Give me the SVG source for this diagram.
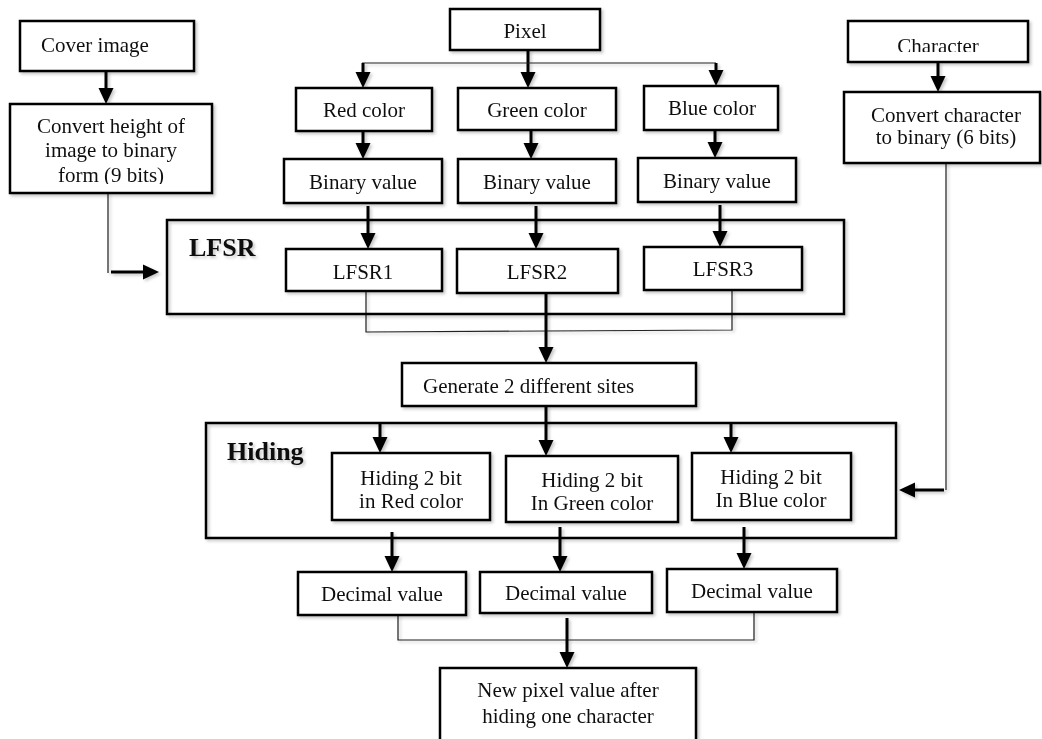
<svg xmlns="http://www.w3.org/2000/svg" width="1042" height="739" viewBox="0 0 1042 739">
<style>
.box{fill:#fff;stroke:#000;stroke-width:2.5}
.t{font-family:"Liberation Serif","Times New Roman",serif;font-size:21px;fill:#111;text-anchor:middle}
.tl{font-family:"Liberation Serif","Times New Roman",serif;font-size:21px;fill:#111}
.b{font-family:"Liberation Serif","Times New Roman",serif;font-size:26px;font-weight:bold;fill:#111}
.arr{fill:none;stroke:#000;stroke-width:3;marker-end:url(#ah)}
.thin{fill:none;stroke:#222;stroke-width:1.2}
</style>
<defs>
<marker id="ah" markerUnits="userSpaceOnUse" markerWidth="16" markerHeight="16" viewBox="0 0 16 16" refX="8" refY="8" orient="auto">
<path d="M0,0.5 L16,8 L0,15.5 z" fill="#000"/>
</marker>
<filter id="sh" x="-10%" y="-10%" width="130%" height="140%">
<feDropShadow dx="2" dy="2" stdDeviation="1.5" flood-color="#000" flood-opacity="0.22"/>
</filter>
<clipPath id="cpConv"><rect x="10" y="104" width="202" height="80"/></clipPath>
<clipPath id="cpChar"><rect x="848" y="21" width="180" height="31"/></clipPath>
</defs>
<rect width="1042" height="739" fill="#fff"/>

<g id="connectors" filter="url(#sh)">
<line class="arr" x1="106" y1="71" x2="106" y2="96"/>
<polyline class="thin" points="108,193 108,273"/>
<line class="arr" x1="111" y1="272" x2="151" y2="272"/>
<line class="arr" x1="528" y1="50" x2="528" y2="80"/>
<polyline class="thin" points="362,63 716,63"/>
<line class="arr" x1="363" y1="63" x2="363" y2="80"/>
<line class="arr" x1="716" y1="63" x2="716" y2="78"/>
<line class="arr" x1="363" y1="131" x2="363" y2="151"/>
<line class="arr" x1="531" y1="130" x2="531" y2="151"/>
<line class="arr" x1="715" y1="130" x2="715" y2="150"/>
<line class="arr" x1="368" y1="206" x2="368" y2="241"/>
<line class="arr" x1="536" y1="206" x2="536" y2="241"/>
<line class="arr" x1="720" y1="205" x2="720" y2="239"/>
<polyline class="thin" points="366,291 366,332 732,330 732,290"/>
<line class="arr" x1="546" y1="293" x2="546" y2="355"/>
<line class="arr" x1="546" y1="406" x2="546" y2="448"/>
<line class="arr" x1="380" y1="423" x2="380" y2="445"/>
<line class="arr" x1="731" y1="423" x2="731" y2="445"/>
<line class="arr" x1="938" y1="62" x2="938" y2="84"/>
<polyline class="thin" points="946,163 946,490"/>
<line class="arr" x1="944" y1="490" x2="907" y2="490"/>
<line class="arr" x1="392" y1="532" x2="392" y2="564"/>
<line class="arr" x1="560" y1="527" x2="560" y2="564"/>
<line class="arr" x1="744" y1="527" x2="744" y2="561"/>
<polyline class="thin" points="398,615 398,640 754,640 754,613"/>
<line class="arr" x1="567" y1="618" x2="567" y2="660"/>
</g>

<g id="lfsr-group" filter="url(#sh)">
<rect class="box" x="167" y="220" width="677" height="94" fill="none" style="fill:none"/>
<text class="b" x="189" y="256">LFSR</text>
</g>
<g id="hiding-group" filter="url(#sh)">
<rect class="box" x="206" y="423" width="690" height="115" style="fill:none"/>
<text class="b" x="227" y="460">Hiding</text>
</g>

<g id="cover" filter="url(#sh)">
<rect class="box" x="20" y="21" width="174" height="50"/>
<text class="tl" x="41" y="52">Cover image</text>
</g>
<g id="convert-height" filter="url(#sh)">
<rect class="box" x="10" y="104" width="202" height="89"/>
<g clip-path="url(#cpConv)">
<text class="t" x="111" y="133">Convert height of</text>
<text class="t" x="111" y="157">image to binary</text>
<text class="t" x="111" y="182">form (9 bits)</text>
</g>
</g>
<g id="pixel" filter="url(#sh)">
<rect class="box" x="450" y="9" width="150" height="41"/>
<text class="t" x="525" y="38">Pixel</text>
</g>
<g id="red" filter="url(#sh)">
<rect class="box" x="296" y="88" width="136" height="43"/>
<text class="t" x="364" y="117">Red color</text>
</g>
<g id="green" filter="url(#sh)">
<rect class="box" x="458" y="88" width="158" height="42"/>
<text class="t" x="537" y="117">Green color</text>
</g>
<g id="blue" filter="url(#sh)">
<rect class="box" x="644" y="86" width="134" height="44"/>
<text class="t" x="712" y="115">Blue color</text>
</g>
<g id="binary-red" filter="url(#sh)">
<rect class="box" x="284" y="159" width="158" height="44"/>
<text class="t" x="363" y="189">Binary value</text>
</g>
<g id="binary-green" filter="url(#sh)">
<rect class="box" x="458" y="159" width="158" height="44"/>
<text class="t" x="537" y="189">Binary value</text>
</g>
<g id="binary-blue" filter="url(#sh)">
<rect class="box" x="638" y="158" width="158" height="44"/>
<text class="t" x="717" y="188">Binary value</text>
</g>
<g id="character" filter="url(#sh)">
<rect class="box" x="848" y="21" width="180" height="41"/>
<g clip-path="url(#cpChar)">
<text class="t" x="938" y="53">Character</text>
</g>
</g>
<g id="convert-character" filter="url(#sh)">
<rect class="box" x="844" y="92" width="196" height="71"/>
<text class="t" x="946" y="122">Convert character</text>
<text class="t" x="946" y="144">to binary (6 bits)</text>
</g>
<g id="lfsr1" filter="url(#sh)">
<rect class="box" x="286" y="249" width="156" height="42"/>
<text class="t" x="363" y="279">LFSR1</text>
</g>
<g id="lfsr2" filter="url(#sh)">
<rect class="box" x="457" y="249" width="161" height="44"/>
<text class="t" x="537" y="279">LFSR2</text>
</g>
<g id="lfsr3" filter="url(#sh)">
<rect class="box" x="644" y="247" width="158" height="43"/>
<text class="t" x="723" y="276">LFSR3</text>
</g>
<g id="generate" filter="url(#sh)">
<rect class="box" x="402" y="363" width="294" height="43"/>
<text class="tl" x="423" y="393">Generate 2 different sites</text>
</g>
<g id="hiding-red" filter="url(#sh)">
<rect class="box" x="332" y="453" width="158" height="67"/>
<text class="t" x="411" y="485">Hiding 2 bit</text>
<text class="t" x="411" y="508">in Red color</text>
</g>
<g id="hiding-green" filter="url(#sh)">
<rect class="box" x="506" y="456" width="172" height="66"/>
<text class="t" x="592" y="487">Hiding 2 bit</text>
<text class="t" x="592" y="510">In Green color</text>
</g>
<g id="hiding-blue" filter="url(#sh)">
<rect class="box" x="692" y="453" width="159" height="67"/>
<text class="t" x="771" y="484">Hiding 2 bit</text>
<text class="t" x="771" y="507">In Blue color</text>
</g>
<g id="decimal-red" filter="url(#sh)">
<rect class="box" x="298" y="572" width="168" height="43"/>
<text class="t" x="382" y="601">Decimal value</text>
</g>
<g id="decimal-green" filter="url(#sh)">
<rect class="box" x="480" y="572" width="172" height="41"/>
<text class="t" x="566" y="600">Decimal value</text>
</g>
<g id="decimal-blue" filter="url(#sh)">
<rect class="box" x="667" y="569" width="170" height="43"/>
<text class="t" x="752" y="598">Decimal value</text>
</g>
<g id="new-pixel" filter="url(#sh)">
<rect class="box" x="440" y="668" width="256" height="90"/>
<text class="t" x="568" y="697">New pixel value after</text>
<text class="t" x="568" y="723">hiding one character</text>
</g>
</svg>
